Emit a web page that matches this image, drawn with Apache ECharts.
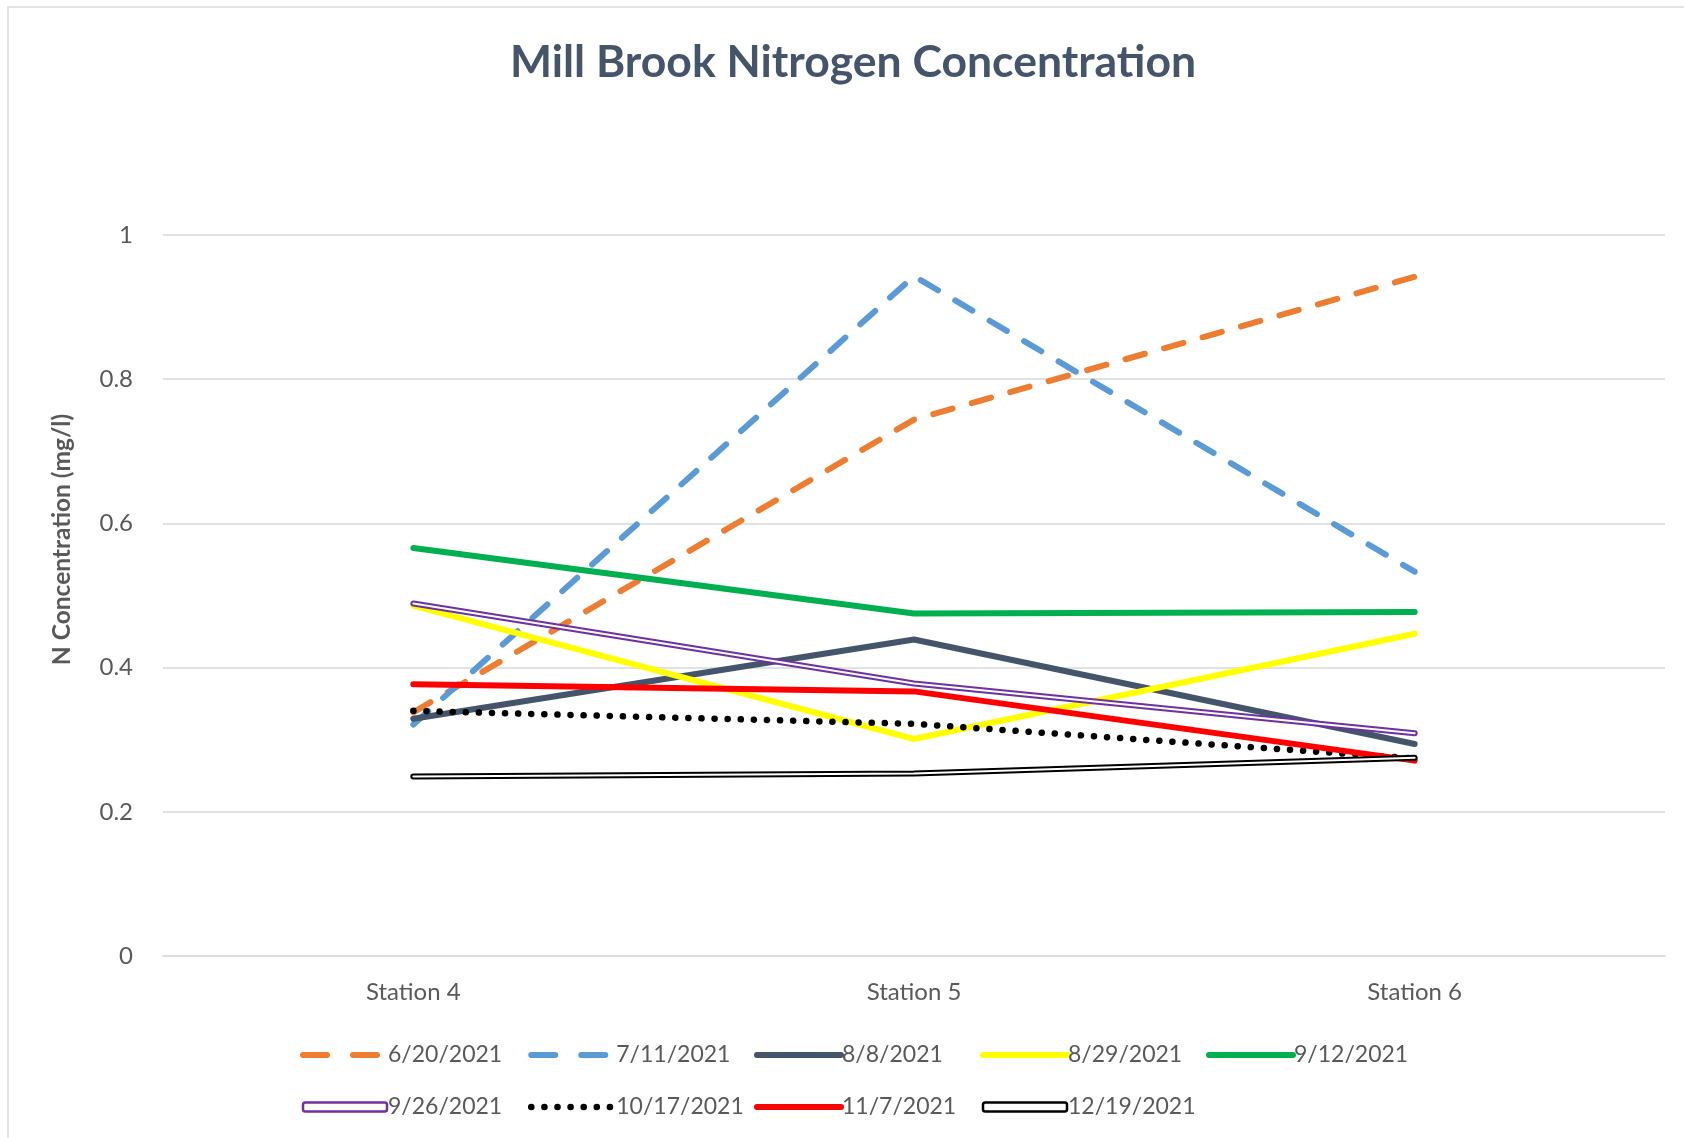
<!DOCTYPE html>
<html>
<head>
<meta charset="utf-8">
<script src="https://cdn.jsdelivr.net/npm/echarts@6/dist/echarts.min.js"></script>
<style>
  html, body { margin: 0; padding: 0; background: #fff; }
  #chart { width: 1684px; height: 1138px; }
</style>
</head>
<body>
<div id="chart"></div>
<script>
// stations along the brook
const stations = [ 'Station 4', 'Station 5', 'Station 6' ];
const yTicks = [ 0, 0.2, 0.4, 0.6, 0.8, 1 ];

// N concentration (mg/l) per sampling date
const jun20 = [ 0.338, 0.744, 0.942 ];
const jul11 = [ 0.321, 0.943, 0.533 ];
const aug8 = [ 0.329, 0.439, 0.294 ];
const aug29 = [ 0.486, 0.301, 0.447 ];
const sep12 = [ 0.566, 0.475, 0.477 ];
const sep26 = [ 0.489, 0.378, 0.309 ];
const oct17 = [ 0.340, 0.322, 0.274 ];
const nov7 = [ 0.377, 0.367, 0.271 ];
const dec19 = [ 0.249, 0.253, 0.275 ];

const font = 'Lato, "Open Sans", sans-serif';
const textGray = '#595959';

function line( name, data, color, width, type, extra ) {
	return Object.assign( {
		name: name,
		type: 'line',
		data: data,
		symbol: 'none',
		showSymbol: false,
		silent: true,
		animation: false,
		lineStyle: { color: color, width: width, type: type || 'solid', cap: 'round', join: 'round' },
		itemStyle: { color: color }
	}, extra || {} );
}

// Excel style double lines: coloured stroke with a white core on top
function core( data ) {
	return line( '', data, '#ffffff', 2, 'solid', { z: 3 } );
}

const dash = [ 20, 20 ];
const dots = [ 0.1, 13 ];

const series = [
	line( '6/20/2021', jun20, '#ED7D31', 6, dash ),
	line( '7/11/2021', jul11, '#5B9BD5', 6, dash ),
	line( '8/8/2021', aug8, '#44546A', 6 ),
	line( '8/29/2021', aug29, '#FFFF00', 6 ),
	line( '9/12/2021', sep12, '#00B050', 6 ),
	line( '9/26/2021', sep26, '#7030A0', 6 ),
	core( sep26 ),
	line( '10/17/2021', oct17, '#000000', 6.5, dots ),
	line( '11/7/2021', nov7, '#FF0000', 6 ),
	line( '12/19/2021', dec19, '#000000', 6 ),
	core( dec19 )
];

const outlined = ( name, color ) => ( {
	name: name,
	icon: 'roundRect',
	itemStyle: { color: '#ffffff', borderColor: color, borderWidth: 2.5, opacity: 1 }
} );
const dashed = name => ( { name: name, lineStyle: { type: [ 24, 26 ] } } );

// legend is laid out as a grid: one vertical legend per column
function legendColumn( left, data ) {
	return {
		orient: 'vertical',
		left: left,
		top: 1037,
		itemWidth: 84,
		itemHeight: 9,
		itemGap: 26,
		selectedMode: false,
		itemStyle: { opacity: 0 },
		lineStyle: { width: 'inherit' },
		textStyle: { fontFamily: font, fontSize: 23, lineHeight: 26, color: textGray, padding: [ 0, 0, 0, -4 ] },
		data: data
	};
}

const chart = echarts.init( document.getElementById( 'chart' ), null, { renderer: 'canvas' } );

chart.setOption( {
	backgroundColor: '#ffffff',
	animation: false,
	title: {
		text: 'Mill Brook Nitrogen Concentration',
		left: 505,
		top: 35,
		textStyle: { fontFamily: font, fontSize: 44.5, fontWeight: 'bold', color: '#44546A' }
	},
	graphic: [ {
		type: 'rect',
		shape: { x: 8, y: 7, width: 1700, height: 1160 },
		style: { fill: 'none', stroke: '#D9D9D9', lineWidth: 1.5 },
		silent: true
	} ],
	grid: { left: 163, right: 19, top: 235, bottom: 182 },
	legend: [
		legendColumn( 295, [ dashed( '6/20/2021' ), outlined( '9/26/2021', '#7030A0' ) ] ),
		legendColumn( 523, [ dashed( '7/11/2021' ), '10/17/2021' ] ),
		legendColumn( 749, [ '8/8/2021', '11/7/2021' ] ),
		legendColumn( 975, [ '8/29/2021', outlined( '12/19/2021', '#000000' ) ] ),
		legendColumn( 1201, [ '9/12/2021' ] )
	],
	xAxis: {
		type: 'category',
		data: stations,
		boundaryGap: true,
		axisLine: { show: true, lineStyle: { color: '#D9D9D9', width: 1.5 } },
		axisTick: { show: false },
		axisLabel: { margin: 24, fontFamily: font, fontSize: 24, color: textGray }
	},
	yAxis: {
		type: 'value',
		min: yTicks[ 0 ],
		max: yTicks[ yTicks.length - 1 ],
		interval: 0.2,
		name: 'N Concentration (mg/l)',
		nameLocation: 'middle',
		nameGap: 88,
		nameTextStyle: { fontFamily: font, fontSize: 24.5, fontWeight: 'bold', color: textGray, padding: [ 0, 0, 0, 112 ] },
		axisLine: { show: false },
		axisTick: { show: false },
		splitLine: { lineStyle: { color: '#D9D9D9', width: 1.5 } },
		axisLabel: {
			margin: 30,
			fontFamily: font,
			fontSize: 24,
			color: textGray,
			formatter: v => String( Math.round( v * 10 ) / 10 )
		}
	},
	series: series
} );
</script>
</body>
</html>
